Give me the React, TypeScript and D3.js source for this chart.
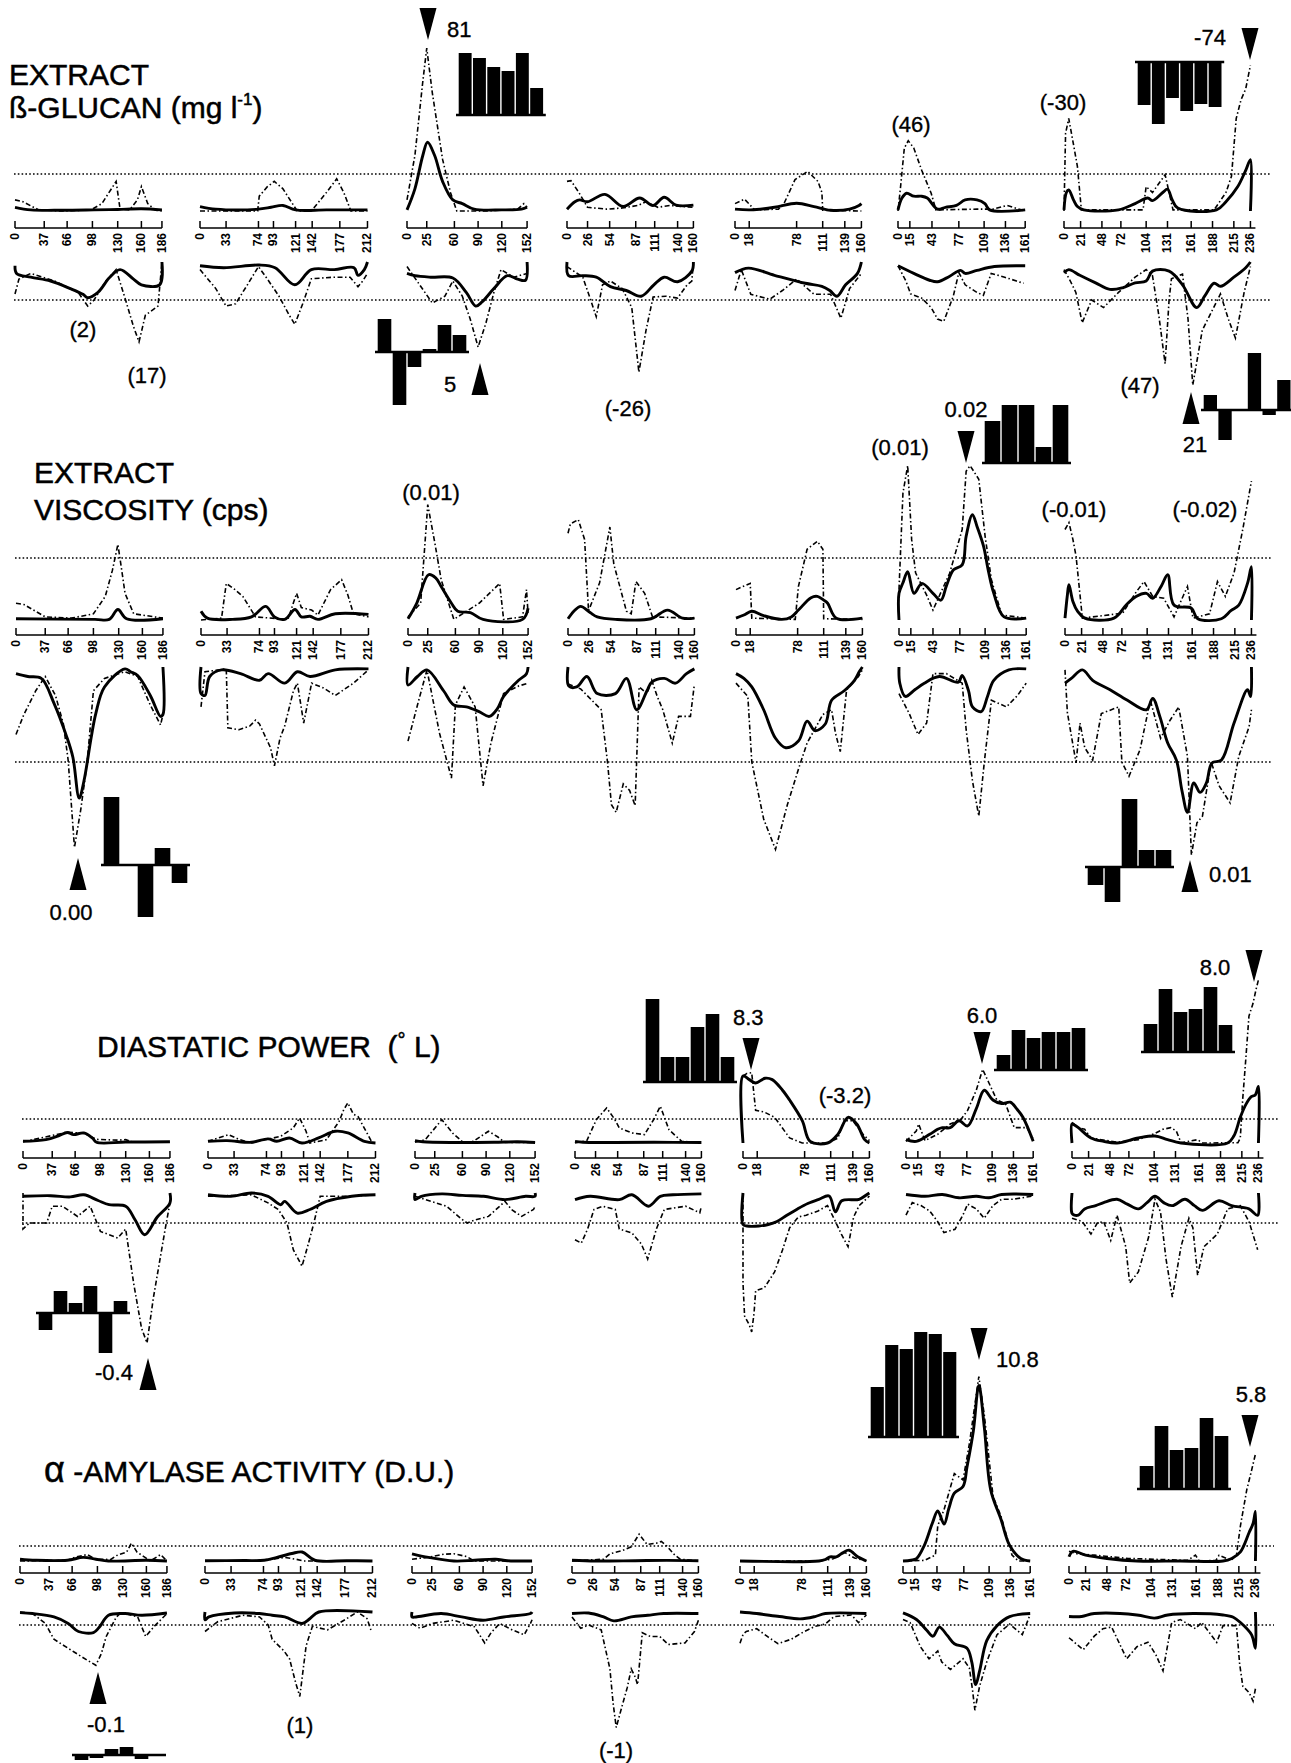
import * as d3 from "d3";

// Linkage groups: length (cM) and marker positions printed under each axis
const chromLengths = [186, 212, 152, 160, 160, 161, 236];
const tickMarks = [
  [0, 37, 66, 98, 130, 160, 186],
  [0, 33, 74, 93, 121, 142, 177, 212],
  [0, 25, 60, 90, 120, 152],
  [0, 26, 54, 87, 111, 140, 160],
  [0, 18, 78, 111, 139, 160],
  [0, 15, 43, 77, 109, 136, 161],
  [0, 21, 48, 72, 104, 131, 161, 188, 215, 236],
];

// Profiles: flat lists of [cM, value, cM, value ...], value 10 = threshold (dotted line)
// EXTRACT B-GLUCAN
const glucanSolidUp = [
  [0, 1, 20, 0.3, 60, 0.2, 100, 0.3, 130, 0.4, 160, 0.6, 186, 0.3],
  [0, 1.2, 20, 0.5, 60, 0.3, 74, 0.5, 90, 1, 105, 1.5, 121, 0.3, 160, 0.3, 212, 0.3],
  [0, 0.3, 10, 6, 20, 15, 26, 18.6, 35, 15, 45, 8, 58, 3, 70, 2, 85, 0.5, 120, 0.3, 145, 0.5, 152, 1],
  [0, 0.5, 10, 2.5, 16, 3, 26, 2.5, 48, 4.5, 71, 1.2, 92, 3.5, 109, 1.5, 123, 3.7, 138, 1.6, 160, 1.6],
  [0, 0.5, 20, 0.3, 50, 1, 78, 2.1, 100, 1.2, 121, 0.2, 145, 0.5, 157, 1.5, 160, 2],
  [0, 0.3, 5, 3.5, 11, 4.8, 20, 4, 30, 4, 37, 3.5, 50, 0.5, 60, 1, 74, 1.5, 85, 3, 100, 3, 110, 2, 116, 0.3, 161, 0.3],
  [0, 0.3, 3, 5, 6, 5.7, 12, 3, 17, 1.2, 25, 0.3, 69, 0.3, 90, 2, 106, 3.5, 112, 2.8, 125, 5, 131, 5.9, 137, 3, 144, 0.8, 193, 0.3, 205, 2.5, 220, 6.6, 230, 11, 236, 13.9, 236, 0],
];
const glucanDashUp = [
  [0, 3, 10, 2.5, 30, 0.3, 60, 0, 96, 0.3, 110, 2, 128, 8, 133, 0.5, 145, 0.3, 155, 3, 160, 6.6, 168, 2, 178, 0.2, 186, 0],
  [0, 0, 73, 0, 75, 4, 85, 6.5, 94, 8, 105, 6, 123, 0, 141, 0, 160, 5, 173, 8.7, 182, 5, 191, 0, 212, 0],
  [0, 3, 10, 15, 20, 35, 25, 44, 32, 32, 45, 14, 55, 5, 63, 0, 100, 0, 140, 0.5, 148, 2, 152, 1],
  [0, 8, 5, 8.2, 15, 5, 26, 1, 50, 0.5, 70, 0.8, 90, 1.5, 100, 2.5, 115, 1, 130, 1.5, 160, 1],
  [0, 2, 12, 3.2, 25, 0.3, 55, 0.5, 62, 2, 76, 8.5, 92, 10.7, 105, 8, 110, 5, 111, 0.2, 160, 0],
  [0, 0, 3, 6, 8, 17, 13, 19, 20, 17, 30, 11, 42, 4.8, 48, 0.3, 100, 0.5, 120, 0.5, 138, 1.5, 161, 0],
  [0, 0, 2, 21, 6, 25, 12, 18, 17, 12, 22, 0.3, 100, 0.3, 104, 6.6, 112, 5, 128, 9.8, 138, 0.3, 190, 0.3, 205, 5, 212, 9.4, 218, 25, 224, 30, 230, 33, 236, 39.4],
];
const glucanSolidDn = [
  [0, 1, 2, 3, 20, 4, 45, 5, 70, 7, 86, 8.5, 92, 9.4, 105, 8, 120, 4, 133, 2, 150, 4.5, 160, 6, 183, 6, 186, 0],
  [0, 1, 30, 1.5, 75, 0.8, 95, 1.5, 120, 6, 141, 2, 170, 2, 195, 1.5, 200, 3.5, 208, 2, 212, 0],
  [0, 3, 10, 3.6, 30, 4, 58, 4.2, 75, 8, 87, 11.6, 95, 10.5, 110, 7, 127, 3.6, 140, 4.5, 150, 4.8, 152, 0],
  [0, 0, 2, 3.6, 20, 3.6, 37, 4, 55, 6.5, 75, 7.5, 94, 9, 110, 6, 123, 4, 140, 5.2, 158, 2.4, 160, 0],
  [0, 2.8, 17, 1.6, 50, 3.5, 89, 5.6, 110, 6.4, 120, 7.5, 129, 9, 140, 6, 155, 3, 160, 0],
  [0, 1, 20, 3, 40, 4.8, 50, 5.2, 65, 3.8, 79, 2.2, 85, 3, 100, 2.2, 122, 1.2, 161, 1],
  [0, 2.8, 6, 2, 20, 3.5, 40, 5.5, 58, 7.2, 74, 6.8, 90, 5.5, 104, 5, 112, 2.4, 133, 2.4, 150, 6, 168, 12, 178, 9, 190, 5.6, 198, 6.4, 215, 4, 230, 1.5, 236, 0],
];
const glucanDashDn = [
  [0, 8.4, 5, 4.5, 20, 3, 50, 5, 80, 8, 92, 11.6, 100, 10, 115, 5, 128, 2, 140, 10, 150, 17, 157, 21, 165, 14, 181, 11.6, 186, 0],
  [0, 2, 20, 7, 33, 11.6, 45, 11, 60, 6, 74, 1.2, 85, 4.4, 100, 9, 113, 14, 120, 16.4, 130, 11, 141, 4.4, 170, 4, 190, 4, 200, 6.5, 206, 5, 212, 3],
  [0, 1.2, 16, 6, 32, 10.8, 48, 9, 58, 5, 70, 9, 80, 15, 90, 22.4, 100, 16, 110, 8, 119, 2, 135, 4, 152, 3],
  [0, 1.2, 20, 4, 30, 10, 37, 14.4, 45, 6, 55, 5, 70, 7, 82, 12, 91, 29, 100, 18, 109, 9.2, 125, 9, 140, 9.5, 152, 6, 158, 5, 160, 0],
  [0, 7.5, 8, 2, 20, 8.5, 44, 9.8, 60, 7.5, 78, 4.5, 100, 8.5, 121, 8.5, 134, 14.8, 145, 7, 160, 3],
  [0, 1, 10, 5, 16, 8.4, 30, 9.5, 42, 12, 50, 15, 58, 15.6, 70, 9, 77, 2.8, 85, 6, 100, 8, 108, 8.8, 118, 3, 135, 4, 150, 5, 159, 5.6],
  [0, 2, 8, 5, 15, 8, 23, 16, 35, 10, 50, 12, 69, 8, 90, 4, 104, 2, 112, 3.6, 120, 14, 128, 26.8, 133, 10, 136, 4.4, 150, 3.2, 157, 15, 163, 32.4, 175, 18, 198, 8.4, 208, 15, 217, 20, 228, 8, 236, 1.2],
];

// EXTRACT VISCOSITY
const viscSolidUp = [
  [0, 0.2, 100, 0.1, 118, 0.1, 129, 1.7, 140, 0.2, 186, 0.2],
  [0, 1.4, 8, 0.3, 40, 0.1, 64, 0.5, 82, 2.2, 93, 0.5, 106, 0.1, 119, 1.7, 127, 0.5, 138, 0.6, 148, 0.1, 170, 1, 212, 0.9],
  [0, 0.2, 11, 2.7, 26, 7.3, 35, 6.8, 42, 5.4, 55, 2.7, 63, 1.4, 79, 1.2, 95, 0.1, 145, 0.1, 152, 1.9],
  [0, 0.2, 8, 1.5, 16, 2.2, 28, 1.2, 37, 0.5, 60, 0.1, 105, 0.2, 126, 1.6, 145, 0.3, 160, 0.3],
  [0, 0.3, 10, 0.8, 20, 1.4, 35, 0.7, 58, 0.1, 70, 0.5, 79, 1.6, 95, 3.6, 103, 3.8, 111, 3.2, 116, 2.7, 127, 0.3, 160, 0.3],
  [0, 0, 0, 4.3, 5, 6, 11, 7.8, 19, 4.3, 29, 5.9, 43, 4.3, 53, 3.2, 60, 5.5, 69, 8.1, 80, 8.9, 85, 13.5, 93, 17, 99, 15, 107, 11.9, 113, 8, 120, 4.3, 133, 0.5, 161, 0.3],
  [0, 0.3, 3, 4, 5, 5.7, 10, 3, 16, 1.4, 25, 0.3, 62, 0.3, 78, 2.5, 90, 3.8, 103, 4.3, 111, 3.5, 122, 5.5, 130, 7.3, 138, 2.4, 160, 1.9, 168, 0.2, 198, 0.2, 210, 1.5, 220, 2.4, 231, 5.9, 236, 8.6, 236, 0],
];
const viscDashUp = [
  [0, 2.7, 10, 2.5, 37, 0.5, 70, 0.3, 98, 1, 113, 3.8, 122, 8, 129, 12.2, 135, 7, 138, 4.3, 149, 1, 186, 0.3],
  [0, 0, 26, 0.3, 32, 5.9, 42, 5, 53, 3.8, 69, 0.5, 110, 0.1, 121, 4.3, 127, 2, 140, 1.6, 148, 0.8, 164, 4.9, 178, 6.5, 186, 4, 193, 1, 212, 0.5],
  [0, 0.5, 16, 2.7, 25, 18.6, 34, 12.4, 42, 6.5, 58, 0.1, 90, 2.7, 116, 5.9, 121, 0.1, 145, 0.5, 150, 4.9, 152, 1],
  [0, 14, 3, 15.5, 13, 16.2, 21, 13, 26, 1.5, 40, 6, 53, 15, 58, 9, 74, 1.4, 80, 1, 86, 6.2, 97, 4.3, 107, 0.5, 160, 0.3],
  [0, 4.9, 5, 5.2, 18, 5.9, 20, 0.3, 75, 0.1, 79, 5.4, 90, 11.4, 103, 12.7, 110, 11.4, 111, 0.2, 160, 0.1],
  [0, 4.9, 5, 20.5, 11, 24.9, 16, 13, 21, 7.6, 35, 4, 43, 1.6, 55, 5, 64, 7.5, 80, 14.6, 85, 24, 90, 24.9, 101, 22.7, 109, 13.5, 117, 6.5, 130, 0.8, 161, 0.3],
  [0, 14.6, 5, 15.7, 10, 13, 14, 10.3, 22, 0.3, 73, 1.1, 90, 4.5, 100, 6.2, 111, 3.8, 125, 3.5, 138, 0.5, 150, 4, 155, 5.4, 162, 0.3, 183, 1, 193, 6.2, 203, 3.8, 214, 7.6, 225, 14.6, 236, 22.4],
];
const viscSolidDn = [
  [0, 0.7, 15, 1, 32, 1.2, 48, 3.8, 64, 7.3, 72, 9.5, 80, 13.8, 86, 12, 95, 7.5, 101, 4.9, 112, 2.1, 138, 0.2, 145, 0.5, 154, 0.9, 170, 3, 183, 5.2, 186, 5, 186, 0],
  [0, 0, 0, 2.8, 5, 3, 11, 1, 26, 0.3, 50, 0.7, 74, 1.4, 85, 0.7, 106, 1.7, 122, 0.5, 138, 1, 170, 0.3, 212, 0.2],
  [0, 0, 0, 1.9, 12, 1, 24, 0.3, 45, 2.5, 58, 4, 74, 4.2, 90, 4.7, 103, 5.2, 113, 4.4, 121, 3.1, 140, 1.4, 150, 0.7, 152, 0],
  [0, 0, 1, 2, 11, 2.1, 24, 1, 37, 2.8, 60, 2.8, 74, 1.2, 87, 4.5, 100, 2.5, 106, 1.6, 122, 1.2, 136, 1.7, 150, 0.7, 160, 0.2],
  [0, 0.7, 10, 1.2, 20, 2.1, 35, 4.5, 50, 7.5, 63, 8.5, 79, 7.8, 90, 5.7, 100, 6.7, 113, 6, 121, 3.5, 137, 2.5, 150, 1.4, 156, 0.5, 160, 0],
  [0, 0, 1, 1.7, 8, 3.1, 20, 2.4, 32, 1.7, 51, 1, 75, 1.6, 80, 0.9, 88, 2.5, 93, 4.2, 104, 4.7, 112, 3.1, 120, 1.4, 139, 0.3, 161, 0.2],
  [0, 1.7, 8, 1.2, 22, 0.3, 35, 1.4, 57, 2.4, 79, 3.5, 103, 4.5, 111, 3.3, 120, 5.2, 130, 8, 141, 9.8, 148, 13, 155, 15.3, 163, 12.2, 171, 13.2, 179, 12.2, 186, 10.1, 198, 9.8, 214, 5.9, 231, 2.4, 235, 3.1, 236, 0],
];
const viscDashDn = [
  [0, 7.1, 10, 5, 25, 2.5, 37, 1, 50, 3, 60, 6, 66, 9.8, 74, 19, 82, 15, 90, 10.1, 98, 2.5, 112, 1.2, 138, 0.5, 154, 1, 170, 4, 183, 6.1, 186, 5],
  [0, 4.2, 5, 0.5, 32, 0.2, 34, 6.4, 48, 6.6, 62, 6.2, 69, 5.6, 74, 6, 88, 8.5, 93, 10.4, 100, 7.5, 106, 6.2, 117, 2.5, 122, 1.7, 130, 5.9, 140, 1.7, 155, 2.2, 170, 3, 193, 1.7, 212, 0.3],
  [0, 7.8, 12, 4, 24, 0.3, 40, 7, 55, 11.7, 60, 4, 71, 2.1, 85, 4.2, 95, 12.5, 105, 8, 121, 2.8, 140, 2, 152, 1.7],
  [0, 1.8, 16, 2.3, 42, 4.5, 50, 10, 55, 14.5, 61, 15.3, 70, 12.3, 78, 13, 85, 14.6, 90, 2.1, 100, 2.8, 106, 1.4, 113, 3.1, 120, 4.5, 132, 8, 140, 5.2, 155, 5.2, 160, 1.8],
  [0, 1.7, 15, 3.1, 20, 10, 35, 16, 50, 19.2, 65, 14.5, 80, 10.5, 90, 8, 110, 5, 121, 4.5, 126, 7, 132, 8.9, 140, 2.4, 155, 1, 160, 0.3],
  [0, 2.8, 13, 4.9, 24, 7.1, 35, 5.9, 43, 0.7, 60, 0.7, 80, 1.7, 85, 6.6, 93, 12, 101, 15.7, 108, 10, 117, 3.5, 136, 4.2, 150, 3, 161, 1.7],
  [0, 0.3, 3, 4.8, 14, 10.1, 19, 5.9, 25, 8.5, 35, 9.8, 46, 4.9, 68, 4.2, 72, 10, 81, 11.5, 95, 8.7, 108, 3.5, 121, 7.5, 133, 5.6, 144, 4.2, 155, 9.4, 160, 19.8, 167, 16.4, 174, 15.7, 185, 10, 195, 12.5, 209, 14.3, 220, 9.4, 233, 6.3, 236, 4.5],
];

// DIASTATIC POWER
const dpSolidUp = [
  [0, 0.7, 29, 1.4, 45, 3, 56, 4.4, 64, 3.5, 77, 4.2, 88, 2, 93, 0.3, 130, 0.4, 186, 0.5],
  [0, 0.7, 24, 1, 55, 0.3, 76, 1.7, 87, 0.7, 103, 2.1, 119, 0, 140, 2.1, 161, 4.9, 177, 4.2, 198, 0.7, 212, 0],
  [0, 1, 10, 0.5, 50, 0.2, 100, 0.3, 130, 0.5, 152, 0.2],
  [0, 0.7, 10, 0.3, 50, 0.2, 100, 0.3, 160, 0.2],
  [0, 0, 0, 27.9, 8, 26.4, 16, 25, 28, 27, 37, 26.4, 50, 22, 59, 17.9, 75, 9.3, 85, 0.7, 107, 0, 120, 3.6, 133, 10.7, 144, 7.9, 154, 1.4, 160, 0],
  [0, 1.4, 13, 0.7, 30, 3.6, 40, 5.7, 46, 6.4, 56, 6.4, 67, 9.3, 78, 7.1, 89, 14.3, 99, 22, 110, 17.9, 121, 16.4, 132, 17, 140, 14.3, 148, 10.7, 161, 0.7],
  [0, 0, 0, 7.9, 3, 7.5, 8, 6.4, 24, 2.1, 40, 0.7, 57, 0, 84, 2.1, 105, 2.9, 121, 1.4, 138, 0, 197, 0, 205, 3, 213, 10.7, 220, 16, 227, 19.3, 232, 20, 236, 23.6, 236, 0],
];
const dpDashUp = [
  [0, 0.5, 56, 4.5, 77, 4, 93, 1.5, 120, 1.2, 130, 1.4, 140, 0.3, 186, 0.3],
  [0, 0.7, 26, 3.5, 40, 1.4, 55, 0, 92, 2.8, 108, 6.3, 116, 10.4, 124, 5, 129, 0, 150, 1.4, 166, 9, 172, 14, 177, 16.7, 184, 12, 190, 11, 208, 0, 212, 0],
  [0, 0.3, 13, 1.4, 34, 9.7, 48, 4, 61, 0.3, 74, 0.7, 93, 4.9, 105, 2.5, 114, 0.2, 152, 0.2],
  [0, 0, 15, 1, 27, 9.7, 40, 14.6, 50, 10, 56, 6.3, 72, 4.2, 88, 3.5, 100, 10, 108, 15.3, 119, 5.5, 135, 0.7, 160, 0.2],
  [0, 27.9, 5, 29, 11, 29.3, 16, 13.6, 27, 12.9, 40, 10.7, 59, 2.1, 75, 0, 107, 0, 120, 2, 128, 9.3, 139, 9.3, 152, 3.6, 160, 1],
  [0, 0.7, 13, 5, 16, 7.9, 24, 1, 40, 3.6, 56, 7.9, 70, 10, 78, 13.6, 89, 22, 97, 30.7, 105, 25, 115, 17.9, 126, 16.4, 137, 6.4, 153, 6.4, 161, 2],
  [0, 8.6, 8, 6.4, 16, 5.7, 24, 2.1, 57, 0.3, 84, 1.4, 105, 4, 115, 5.7, 125, 6.4, 132, 5, 138, 0.1, 159, 1.4, 165, 0, 210, 0.1, 213, 2, 216, 17.9, 220, 35, 224, 52.9, 229, 58, 233, 64, 236, 68],
];
const dpSolidDn = [
  [0, 1.1, 35, 0.9, 60, 1.3, 77, 0.6, 95, 2.5, 109, 3.9, 130, 4.4, 142, 9, 154, 13.9, 170, 8, 186, 3.3, 186, 0],
  [0, 0.6, 29, 1.1, 55, 0, 76, 1.1, 92, 3.9, 97, 2.8, 113, 6.7, 129, 5.5, 150, 2.8, 182, 1.1, 212, 0.6],
  [0, 0, 0, 2.2, 8, 1.1, 34, 0.3, 60, 0.8, 87, 1.1, 114, 2.2, 140, 1.1, 152, 1.1, 152, 0],
  [0, 2.2, 19, 1.1, 56, 2.2, 72, 0.6, 93, 4.4, 108, 1.1, 124, 0.6, 160, 0.3],
  [0, 0, 0, 10.5, 5, 11, 20, 11, 32, 10.5, 43, 9.5, 55, 7.5, 69, 5.3, 82, 3.5, 96, 2.1, 109, 1, 117, 6.3, 125, 2.6, 147, 2.1, 157, 0.5, 160, 0],
  [0, 0.5, 24, 1.1, 46, 0.5, 67, 1.6, 89, 1.1, 105, 1.6, 121, 0.5, 161, 0.5],
  [0, 0, 0, 6.8, 3, 7.4, 8, 7.4, 16, 5.3, 30, 4.2, 40, 3.2, 57, 2.1, 70, 3.7, 84, 5.3, 95, 3.2, 105, 1.1, 116, 3.2, 127, 4.2, 143, 2.1, 155, 4.2, 165, 5.8, 186, 2.6, 202, 4.2, 224, 5.3, 235, 7.4, 236, 0],
];
const dpDashDn = [
  [0, 0, 0, 12, 8, 10, 30, 10, 37, 4.4, 50, 4.4, 69, 7.8, 85, 4.4, 98, 12.8, 120, 15, 130, 12, 140, 30, 150, 45, 157, 50, 165, 35, 180, 12, 186, 3.3],
  [0, 1.1, 55, 0.6, 76, 3.3, 89, 5.5, 100, 10, 108, 18.9, 119, 24.4, 128, 16, 134, 10, 142, 1.1, 180, 1.1, 212, 0.6],
  [0, 1.1, 13, 2.2, 40, 4.4, 58, 8.5, 66, 10, 77, 8.9, 93, 7.8, 114, 2.8, 122, 5.5, 135, 7.8, 150, 5.5, 152, 4.4],
  [0, 15.6, 8, 16.7, 16, 12, 24, 5.5, 35, 4.4, 51, 5.5, 56, 12, 72, 13.3, 84, 17, 92, 22, 103, 12, 113, 5.5, 140, 4.4, 158, 6.6, 160, 4.4],
  [0, 0, 0, 30, 2, 41, 8, 44, 11, 46.3, 14, 40, 16, 32.6, 27, 31.6, 40, 26.3, 50, 19, 59, 11.6, 70, 8, 80, 7.4, 95, 6, 107, 4.2, 117, 9.5, 125, 14, 133, 17.9, 140, 8, 147, 4.2, 160, 1],
  [0, 7.4, 8, 3.2, 19, 4.2, 30, 6, 40, 9.5, 48, 13.2, 62, 12.1, 72, 7.4, 78, 3.7, 89, 5.3, 99, 8.4, 110, 4.2, 121, 2.1, 135, 2.1, 161, 1],
  [0, 8.4, 13, 9.5, 24, 13.7, 32, 10, 40, 9.5, 49, 15.8, 57, 7.4, 68, 17.9, 73, 30, 84, 26.3, 97, 14.7, 105, 2.1, 112, 6.3, 119, 22, 127, 34.7, 138, 17.9, 148, 8.4, 153, 11.6, 159, 27.4, 167, 17.9, 184, 13.7, 197, 5.3, 213, 4.2, 224, 9.5, 235, 18.9],
];

// ALPHA-AMYLASE ACTIVITY
const alphaSolidUp = [
  [0, 1.2, 20, 0.5, 60, 0.5, 80, 2.4, 96, 1.2, 112, 0, 160, 0.5, 186, 0],
  [0, 0.2, 50, 0.3, 75, 0.5, 91, 2.4, 110, 5, 123, 6, 139, 0.5, 180, 0.2, 212, 0],
  [0, 4.8, 21, 2.4, 53, 0, 79, 0.5, 106, 1.2, 121, 0.2, 152, 0],
  [0, 0.5, 30, 0, 80, 0.2, 120, 0.4, 160, 0.2],
  [0, 0, 100, 0, 108, 1, 114, 2.8, 122, 2.8, 130, 5.5, 138, 7.2, 149, 2.8, 160, 0],
  [0, 0, 10, 0.5, 17, 1.5, 27, 10.4, 37, 25, 44, 33.3, 52, 24.6, 58, 35, 65, 45.2, 76, 49.6, 81, 62.6, 89, 86.5, 96, 117, 103, 88.7, 111, 47.4, 124, 27.8, 135, 10.4, 149, 1.7, 161, 0],
  [0, 2.8, 5, 6.5, 21, 3.9, 48, 1.7, 86, 0, 141, 0, 195, 0, 206, 1.7, 217, 6.1, 228, 19, 233, 25, 236, 33, 236, 0],
];
const alphaDashUp = [
  [0, 0, 60, 0.5, 69, 2.4, 85, 4.3, 96, 1.2, 115, 1, 122, 3.6, 135, 6, 141, 11.9, 148, 6, 165, 0, 178, 4.3, 186, 0],
  [0, 0, 60, 0.2, 85, 1.2, 101, 2.4, 115, 1.2, 125, 0, 212, 0],
  [0, 1.2, 21, 2.5, 40, 4.5, 53, 4.8, 69, 3, 79, 0, 152, 0],
  [0, 0, 40, 1.2, 48, 4.8, 64, 7, 75, 9.5, 85, 17.9, 95, 11, 107, 11.9, 113, 13, 120, 10, 130, 4, 137, 1.2, 160, 0],
  [0, 0, 100, 0, 118, 1.5, 133, 5.6, 145, 2, 160, 0],
  [0, 0, 27, 0.4, 41, 3.9, 44, 23.5, 52, 34.3, 65, 58.3, 76, 54, 84, 78, 92, 108, 96, 123, 103, 97, 114, 43, 124, 30, 138, 3.9, 146, 0, 161, 0],
  [0, 6.5, 10, 4.8, 32, 3.9, 75, 1.7, 150, 0.4, 160, 3.9, 165, 0, 186, 0.4, 190, 3.9, 205, 0.4, 212, 4, 217, 23.5, 225, 47.4, 230, 58, 236, 71.3],
];
const alphaSolidDn = [
  [0, 0.5, 16, 1.2, 43, 3.8, 61, 8.8, 74, 15, 93, 15.8, 100, 12, 112, 2.5, 133, 1.2, 154, 2.5, 186, 0.8],
  [0, 0, 0, 6, 5, 3.8, 37, 0.8, 69, 1.2, 85, 2.5, 101, 3.8, 123, 8.8, 133, 5, 144, 0, 212, 0],
  [0, 0, 0, 3.8, 5, 3.8, 37, 1.2, 63, 3.8, 90, 6.3, 116, 3.8, 150, 1.2, 152, 0],
  [0, 1.2, 21, 0.8, 40, 3.8, 53, 6.8, 75, 3.8, 96, 2.5, 116, 1.2, 160, 1.2],
  [0, 0, 21, 1.2, 50, 3.5, 76, 5.3, 95, 3.5, 108, 1.2, 160, 1.2],
  [0, 0.7, 17, 5.8, 30, 14, 38, 18.6, 46, 11.6, 56, 18, 65, 24.4, 81, 27.9, 87, 38.4, 92, 55.8, 97, 45.3, 106, 22, 119, 10.5, 135, 3.5, 161, 1.2],
  [0, 3.5, 16, 3.5, 32, 1.2, 86, 2.3, 108, 4.7, 125, 2.3, 157, 1.2, 195, 2.3, 208, 4, 217, 8.1, 231, 17.4, 236, 27.9, 236, 0],
];
const alphaDashDn = [
  [0, 0, 16, 1.2, 32, 8.8, 43, 21, 69, 31, 85, 37, 96, 41, 103, 32, 109, 19, 122, 3.8, 128, 0.5, 149, 3.8, 159, 18.8, 170, 11, 186, 1.2],
  [0, 15, 16, 7.5, 48, 2.5, 69, 3.8, 80, 10, 85, 21, 100, 30, 107, 36, 115, 55, 120, 65, 128, 26, 136, 11, 155, 13.8, 176, 6.3, 193, 0, 205, 5, 210, 13.8],
  [0, 8.8, 10, 12.5, 26, 8.8, 53, 6.3, 79, 11.3, 92, 23.8, 100, 16, 111, 8.8, 127, 13.8, 142, 17.5, 150, 8.8, 152, 6],
  [0, 3.8, 11, 12.5, 21, 10, 37, 13.8, 48, 43.8, 52, 70, 56, 88.8, 64, 71, 70, 58, 75, 43.8, 80, 50, 83, 56, 89, 16, 99, 18.8, 111, 18.8, 122, 25, 143, 23.8, 155, 15, 160, 6.3],
  [0, 24, 4, 17, 8, 15, 21, 12.8, 35, 19, 48, 24.4, 65, 20.9, 80, 15.5, 95, 11, 108, 9.3, 119, 3.5, 141, 2.3, 150, 8.1, 160, 2.3],
  [0, 5.8, 9, 8.1, 22, 26.7, 33, 36, 44, 30, 49, 38.4, 60, 44.2, 76, 36, 84, 43, 88, 60, 91, 75.6, 97, 57, 106, 38.4, 119, 17.4, 135, 9.3, 151, 17.4, 160, 3.5],
  [0, 19.8, 18, 29, 32, 18.6, 43, 12.8, 54, 11.6, 73, 36, 86, 26.7, 100, 23.3, 110, 33, 119, 45.3, 130, 8.1, 141, 5.8, 160, 12.8, 168, 8, 187, 23.3, 195, 10.5, 212, 10.5, 216, 40, 220, 57, 228, 62, 233, 68.6, 236, 59],
];

// small effect bar charts
const bars81 = [6.2, 5.7, 4.8, 4.4, 6.2, 2.7];
const bars5 = [3.3, -5.3, -1.5, 0.3, 2.7, 1.7];
const barsM74 = [-4.3, -6.2, -3.6, -4.9, -4.2, -4.5];
const bars21 = [1.5, -3.0, 0.1, 5.7, -0.5, 3.0];
const bars000 = [6.8, 0, -5.2, 1.7, -1.8];
const bars002 = [4.2, 5.8, 5.8, 1.6, 5.8];
const bars001 = [-1.8, -3.5, 6.8, 1.7, 1.7];
const bars83 = [8.3, 2.5, 2.5, 5.5, 6.8, 2.5];
const bars60 = [1.5, 4.0, 3.2, 3.8, 3.8, 4.2];
const bars80 = [2.8, 6.3, 4.0, 4.3, 6.5, 2.7];
const barsM04 = [-1.7, 2.2, 1.0, 2.7, -4.0, 1.2];
const bars108 = [5.0, 9.2, 8.8, 10.5, 10.3, 8.5];
const bars58 = [2.3, 6.3, 3.9, 4.1, 7.1, 5.3];
const barsM01 = [-0.5, -0.3, 0.6, 0.8, -0.4, 0];

// ---- layout ----
const panelOffsets = [0, 185, 392, 552, 720, 883, 1049];
const pxPerCM = 0.79;

const sections = [
  { x0: 15, top: 174, base: 211, axis: 228, zero: 262, bottom: 300, end: 1270, data: [glucanSolidUp, glucanDashUp, glucanSolidDn, glucanDashDn] },
  { x0: 16, top: 558, base: 620, axis: 635, zero: 667, bottom: 762, end: 1272, data: [viscSolidUp, viscDashUp, viscSolidDn, viscDashDn] },
  { x0: 23, top: 1119, base: 1143, axis: 1158, zero: 1193, bottom: 1223, end: 1278, data: [dpSolidUp, dpDashUp, dpSolidDn, dpDashDn] },
  { x0: 20, top: 1546, base: 1561, axis: 1573, zero: 1612, bottom: 1625, end: 1274, data: [alphaSolidUp, alphaDashUp, alphaSolidDn, alphaDashDn] },
];

const barCharts = [
  { v: bars81, x: 458, y: 115, slot: 14.3 },
  { v: bars5, x: 377, y: 352, slot: 15 },
  { v: barsM74, x: 1137, y: 62, slot: 14.2 },
  { v: bars21, x: 1203, y: 410, slot: 14.7 },
  { v: bars000, x: 103, y: 865, slot: 17 },
  { v: bars002, x: 984, y: 463, slot: 17 },
  { v: bars001, x: 1087, y: 867, slot: 17 },
  { v: bars83, x: 645, y: 1082, slot: 15 },
  { v: bars60, x: 996, y: 1070, slot: 15 },
  { v: bars80, x: 1143, y: 1052, slot: 15 },
  { v: barsM04, x: 38, y: 1313, slot: 15 },
  { v: bars108, x: 870, y: 1437, slot: 14.5 },
  { v: bars58, x: 1139, y: 1489, slot: 15 },
  { v: barsM01, x: 74, y: 1755, slot: 15 },
];

// dir -1: pointing down (tip at y+h), dir 1: pointing up (tip at y)
const markers = [
  { x: 428, y: 8, dir: -1 },
  { x: 480, y: 363, dir: 1 },
  { x: 1250, y: 28, dir: -1 },
  { x: 1191, y: 392, dir: 1 },
  { x: 78, y: 858, dir: 1 },
  { x: 966, y: 431, dir: -1 },
  { x: 1190, y: 860, dir: 1 },
  { x: 751, y: 1038, dir: -1 },
  { x: 982, y: 1032, dir: -1 },
  { x: 1254, y: 950, dir: -1 },
  { x: 148, y: 1358, dir: 1 },
  { x: 979, y: 1328, dir: -1 },
  { x: 1250, y: 1415, dir: -1 },
  { x: 98, y: 1672, dir: 1 },
];

const labels = [
  { t: "81", x: 447, y: 37, a: "start" },
  { t: "5", x: 444, y: 392, a: "start" },
  { t: "(2)", x: 83, y: 337 },
  { t: "(17)", x: 147, y: 383 },
  { t: "(-26)", x: 628, y: 416 },
  { t: "(46)", x: 911, y: 132 },
  { t: "(-30)", x: 1063, y: 110 },
  { t: "-74", x: 1210, y: 45 },
  { t: "(47)", x: 1140, y: 393 },
  { t: "21", x: 1195, y: 452 },
  { t: "(0.01)", x: 431, y: 500 },
  { t: "0.00", x: 71, y: 920 },
  { t: "(0.01)", x: 900, y: 455 },
  { t: "0.02", x: 966, y: 417 },
  { t: "(-0.01)", x: 1074, y: 517 },
  { t: "(-0.02)", x: 1205, y: 517 },
  { t: "0.01", x: 1209, y: 882, a: "start" },
  { t: "8.3", x: 733, y: 1025, a: "start" },
  { t: "(-3.2)", x: 845, y: 1103 },
  { t: "6.0", x: 982, y: 1023 },
  { t: "8.0", x: 1215, y: 975 },
  { t: "-0.4", x: 95, y: 1380, a: "start" },
  { t: "10.8", x: 996, y: 1367, a: "start" },
  { t: "5.8", x: 1251, y: 1402 },
  { t: "-0.1", x: 106, y: 1732 },
  { t: "(1)", x: 300, y: 1733 },
  { t: "(-1)", x: 616, y: 1758 },
];

function pairs(a: number[]): [number, number][] {
  const out: [number, number][] = [];
  for (let i = 0; i < a.length; i += 2) out.push([a[i], a[i + 1]]);
  return out;
}

const DOT = "1.6 2.2";
const DASHDOT = "5 2.5 1.5 2.5";

function Section({ s, k }: { s: any; k: number }) {
  const yUp = d3.scaleLinear().domain([0, 10]).range([s.base, s.top]);
  const yDn = d3.scaleLinear().domain([0, 10]).range([s.zero, s.bottom]);
  const [solidUp, dashUp, solidDn, dashDn] = s.data;
  return (
    <g>
      <line x1={s.x0 - 1} x2={s.end} y1={s.top} y2={s.top} stroke="#000" strokeWidth={1.6} strokeDasharray={DOT} />
      <line x1={s.x0 - 1} x2={s.end} y1={s.bottom} y2={s.bottom} stroke="#000" strokeWidth={1.6} strokeDasharray={DOT} />
      {chromLengths.map((len, i) => {
        const left = s.x0 + panelOffsets[i];
        const x = d3.scaleLinear().domain([0, len]).range([left, left + len * pxPerCM]);
        const smoothUp = d3.line<[number, number]>().x((d) => x(d[0])).y((d) => yUp(d[1])).curve(d3.curveCatmullRom.alpha(0.5));
        const smoothDn = d3.line<[number, number]>().x((d) => x(d[0])).y((d) => yDn(d[1])).curve(d3.curveCatmullRom.alpha(0.5));
        const rawUp = d3.line<[number, number]>().x((d) => x(d[0])).y((d) => yUp(d[1]));
        const rawDn = d3.line<[number, number]>().x((d) => x(d[0])).y((d) => yDn(d[1]));
        return (
          <g key={`${k}-${i}`}>
            <path d={rawUp(pairs(dashUp[i])) || ""} fill="none" stroke="#000" strokeWidth={1.6} strokeDasharray={DASHDOT} />
            <path d={rawDn(pairs(dashDn[i])) || ""} fill="none" stroke="#000" strokeWidth={1.6} strokeDasharray={DASHDOT} />
            <path d={smoothUp(pairs(solidUp[i])) || ""} fill="none" stroke="#000" strokeWidth={2.9} strokeLinejoin="round" />
            <path d={smoothDn(pairs(solidDn[i])) || ""} fill="none" stroke="#000" strokeWidth={2.9} strokeLinejoin="round" />
            <line x1={x(0)} x2={x(len) + (i === 6 ? 5 : 0)} y1={s.axis} y2={s.axis} stroke="#000" strokeWidth={1.7} />
            {tickMarks[i].map((t) => (
              <g key={t}>
                <line x1={x(t)} x2={x(t)} y1={s.axis - 7} y2={s.axis} stroke="#000" strokeWidth={1.5} />
                <text
                  transform={`translate(${x(t) + 4},${s.axis + 5}) rotate(-90)`}
                  textAnchor="end"
                  fontSize={12}
                  fontWeight="bold"
                >
                  {t}
                </text>
              </g>
            ))}
          </g>
        );
      })}
    </g>
  );
}

export default function App() {
  const W = 1291;
  const H = 1763;
  const barH = d3.scaleLinear().domain([0, 1]).range([0, 10]);
  const triW = 17;
  const triH = 32;
  return (
    <svg
      width={W}
      height={H}
      viewBox={`0 0 ${W} ${H}`}
      style={{ position: "absolute", left: 0, top: 0, background: "#fff" }}
      fontFamily="'Liberation Sans', Arial, Helvetica, sans-serif"
    >
      <rect width={W} height={H} fill="#fff" />

      {/* titles */}
      <g fontSize={30} stroke="#000" strokeWidth={0.5}>
        <text x={9} y={85}>EXTRACT</text>
        <text x={9} y={118}>
          ß-GLUCAN (mg l<tspan fontSize={17} dy={-13}>-1</tspan>
          <tspan dy={13}>)</tspan>
        </text>
        <text x={34} y={483}>EXTRACT</text>
        <text x={34} y={520}>VISCOSITY (cps)</text>
        <text x={97} y={1057} style={{ whiteSpace: "pre" }}>
          DIASTATIC POWER  (<tspan fontSize={20} dy={-10}>°</tspan>
          <tspan dy={10}> L)</tspan>
        </text>
        <text x={44} y={1482}>
          <tspan fontSize={36}>α</tspan> -AMYLASE ACTIVITY (D.U.)
        </text>
      </g>

      {sections.map((s, k) => (
        <Section key={k} s={s} k={k} />
      ))}

      {/* effect bar charts */}
      {barCharts.map((b, j) => (
        <g key={j}>
          {b.v.map((v, i) => (
            <rect
              key={i}
              x={b.x + i * b.slot + 0.7}
              width={b.slot - 1.4}
              y={v >= 0 ? b.y - barH(v) : b.y}
              height={Math.abs(barH(v))}
              fill="#000"
            />
          ))}
          <line x1={b.x - 2} x2={b.x + b.v.length * b.slot + 2} y1={b.y} y2={b.y} stroke="#000" strokeWidth={2.4} />
        </g>
      ))}

      {/* peak markers */}
      {markers.map((m, j) => {
        const pts =
          m.dir < 0
            ? `${m.x - triW / 2},${m.y} ${m.x + triW / 2},${m.y} ${m.x},${m.y + triH}`
            : `${m.x},${m.y} ${m.x + triW / 2},${m.y + triH} ${m.x - triW / 2},${m.y + triH}`;
        return <polygon key={j} points={pts} fill="#000" />;
      })}

      {/* effect labels */}
      {labels.map((l, j) => (
        <text key={j} x={l.x} y={l.y} fontSize={22} textAnchor={l.a || "middle"} stroke="#000" strokeWidth={0.35}>
          {l.t}
        </text>
      ))}
    </svg>
  );
}
